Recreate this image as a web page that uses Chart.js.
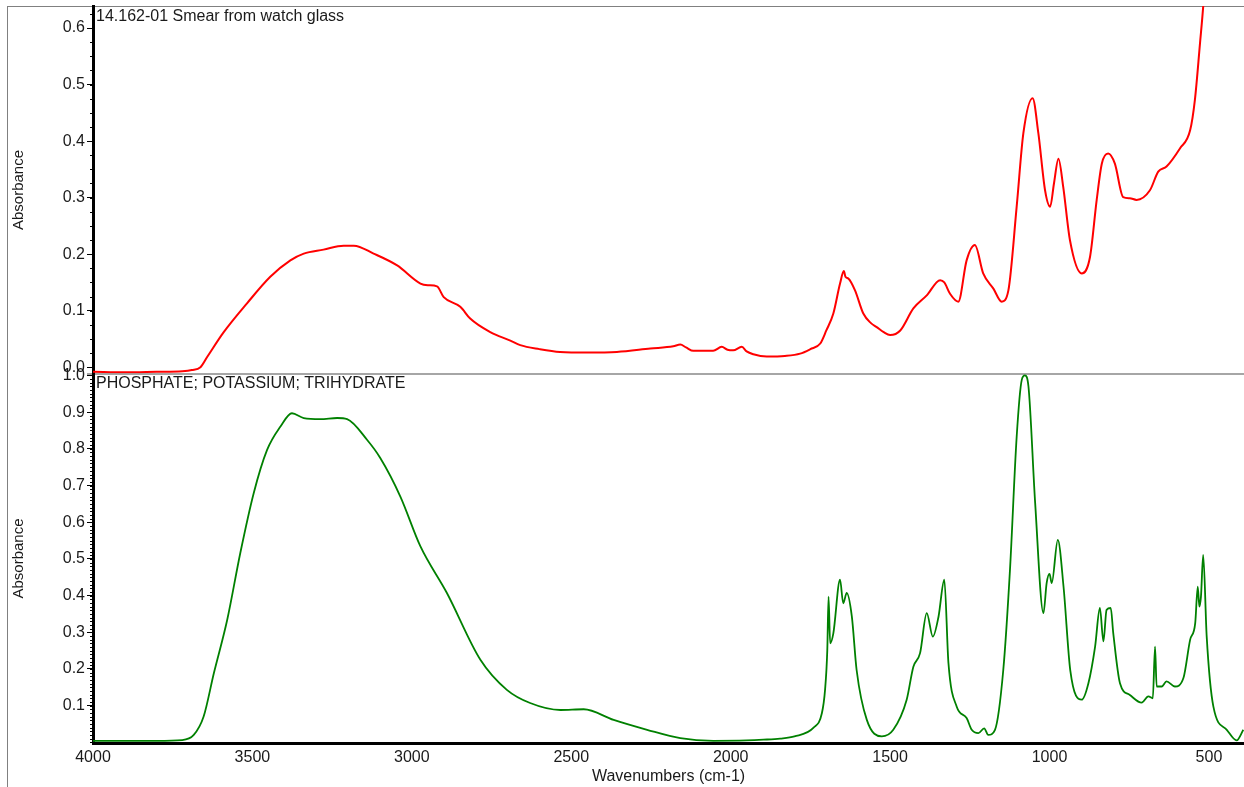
<!DOCTYPE html>
<html>
<head>
<meta charset="utf-8">
<title>IR spectra</title>
<script src="https://cdn.jsdelivr.net/npm/chart.js@4.4.1/dist/chart.umd.min.js"></script>
<style>
  body { margin: 0; background: #fff; }
  #wrap { position: relative; width: 1244px; height: 787px; overflow: hidden; background: #fff; }
  #wrap canvas { position: absolute; left: 0; top: 0; }
  #frame { position: absolute; left: 7px; top: 6px; width: 1300px; height: 800px;
           border-left: 1px solid #808080; border-top: 1px solid #808080; }
</style>
</head>
<body>
<div id="wrap">
  <div id="frame"></div>
  <canvas id="topChart" width="1244" height="787"></canvas>
  <canvas id="bottomChart" width="1244" height="787"></canvas>
</div>
<script>
// sample spectrum (top panel)
const smearWn = [4000, 3900, 3800, 3720, 3690, 3663, 3642, 3590, 3517, 3444, 3381, 3339, 3277, 3214, 3182,
  3120, 3046, 2973, 2950, 2921, 2900, 2848, 2817, 2754, 2691, 2660, 2600, 2535, 2450, 2357, 2252, 2180,
  2158, 2140, 2117, 2055, 2028, 2010, 1992, 1965, 1950, 1929, 1887, 1830, 1782, 1750, 1719, 1700, 1678,
  1657, 1645, 1640, 1631, 1610, 1584, 1560, 1542, 1520, 1500, 1468, 1427, 1385, 1343, 1330, 1312, 1286,
  1260, 1234, 1208, 1176, 1150, 1129, 1103, 1082, 1053, 1035, 1014, 998, 986, 972, 957, 936, 899, 873,
  852, 836, 816, 795, 769, 748, 727, 685, 659, 633, 591, 559, 544, 528, 518, 505];
const smearAbs = [-0.008, -0.009, -0.008, -0.007, -0.005, 0.000, 0.018, 0.062, 0.113, 0.160, 0.189, 0.201, 0.208, 0.215, 0.215,
  0.201, 0.180, 0.148, 0.145, 0.143, 0.124, 0.107, 0.086, 0.062, 0.047, 0.039, 0.032, 0.027, 0.026, 0.027, 0.033, 0.037,
  0.040, 0.035, 0.029, 0.029, 0.036, 0.031, 0.030, 0.036, 0.028, 0.023, 0.019, 0.020, 0.024, 0.032, 0.042, 0.065, 0.095,
  0.148, 0.170, 0.160, 0.157, 0.136, 0.095, 0.078, 0.071, 0.062, 0.057, 0.065, 0.104, 0.127, 0.154, 0.150, 0.130, 0.116,
  0.189, 0.216, 0.166, 0.139, 0.116, 0.136, 0.284, 0.414, 0.476, 0.414, 0.313, 0.284, 0.325, 0.369, 0.319, 0.225, 0.166, 0.195,
  0.296, 0.360, 0.378, 0.360, 0.301, 0.299, 0.296, 0.313, 0.346, 0.355, 0.387, 0.419, 0.473, 0.573, 0.638, 0.750];

// library reference spectrum (bottom panel)
const refWn = [4000, 3900, 3800, 3720, 3684, 3653, 3621, 3579, 3538, 3496, 3454, 3412, 3376, 3339, 3287, 3234,
  3203, 3140, 3099, 3036, 2973, 2890, 2785, 2702, 2629, 2534, 2461, 2367, 2262, 2158, 2054, 1950, 1897, 1845,
  1800, 1740, 1714, 1704, 1697, 1693, 1688, 1678, 1657, 1647, 1636, 1620, 1605, 1573, 1526, 1490, 1448, 1427,
  1406, 1385, 1366, 1348, 1330, 1317, 1291, 1260, 1244, 1223, 1205, 1192, 1171, 1145, 1124, 1103, 1087, 1077,
  1066, 1045, 1019, 1009, 1000, 993, 974, 956, 935, 899, 878, 857, 842, 831, 821, 808, 800, 779, 748, 711, 690,
  676, 669, 664, 648, 633, 607, 580, 559, 543, 535, 530, 525, 518, 507, 486, 444, 413, 392];
const refAbs = [0.004, 0.004, 0.004, 0.006, 0.020, 0.070, 0.188, 0.334, 0.516, 0.679, 0.797, 0.861, 0.897, 0.884, 0.881, 0.884,
  0.881, 0.824, 0.775, 0.670, 0.534, 0.407, 0.225, 0.143, 0.107, 0.088, 0.090, 0.061, 0.034, 0.011, 0.004, 0.005, 0.007, 0.010,
  0.016, 0.040, 0.079, 0.143, 0.250, 0.397, 0.270, 0.297, 0.443, 0.379, 0.407, 0.343, 0.197, 0.061, 0.016, 0.034, 0.116, 0.206,
  0.243, 0.352, 0.288, 0.343, 0.443, 0.216, 0.097, 0.066, 0.034, 0.025, 0.038, 0.020, 0.034, 0.197, 0.470, 0.833, 0.988, 1.000,
  0.970, 0.652, 0.352, 0.434, 0.459, 0.434, 0.552, 0.424, 0.197, 0.116, 0.161, 0.261, 0.366, 0.275, 0.361, 0.366, 0.297, 0.161, 0.129, 0.108, 0.125,
  0.120, 0.261, 0.152, 0.152, 0.166, 0.152, 0.175, 0.279, 0.325, 0.424, 0.370, 0.397, 0.511, 0.288, 0.097, 0.034, 0.005, 0.034];

const xTicks = [4000, 3500, 3000, 2500, 2000, 1500, 1000, 500];
const topTicks = [0.0, 0.1, 0.2, 0.3, 0.4, 0.5, 0.6];
const bottomTicks = [0.1, 0.2, 0.3, 0.4, 0.5, 0.6, 0.7, 0.8, 0.9, 1.0];

const FONT = "'Liberation Sans', Arial, sans-serif";
Chart.defaults.font.family = FONT;
Chart.defaults.color = '#1a1a1a';

function toPoints(xs, ys) {
    return xs.map((x, i) => ({ x: x, y: ys[i] }));
}

// minor ticks, divider line and panel caption
const panelDeco = {
    id: 'panelDeco',
    afterDraw(chart, args, opts) {
        const { ctx, chartArea } = chart;
        const y = chart.scales.y;
        ctx.save();
        ctx.strokeStyle = '#000';
        ctx.lineWidth = 1;
        ctx.beginPath();
        const first = Math.ceil(y.min / opts.minorStep - 1e-6);
        for (let k = first; k * opts.minorStep <= y.max + 1e-9; k++) {
            const py = Math.round(y.getPixelForValue(k * opts.minorStep)) + 0.5;
            ctx.moveTo(chartArea.left - 3, py);
            ctx.lineTo(chartArea.left, py);
        }
        ctx.stroke();
        if (opts.divider) {
            ctx.strokeStyle = '#888';
            ctx.lineWidth = 1.5;
            ctx.beginPath();
            ctx.moveTo(chartArea.left - 6, chartArea.bottom);
            ctx.lineTo(chartArea.right, chartArea.bottom);
            ctx.stroke();
        }
        ctx.fillStyle = '#1a1a1a';
        ctx.font = '16px ' + FONT;
        ctx.textBaseline = 'alphabetic';
        ctx.textAlign = 'left';
        ctx.fillText(opts.title, chartArea.left + 3, chartArea.top + opts.titleDy);
        ctx.restore();
    }
};

// keep the plot area exactly where the layout padding puts it
function noLabelPadding(axis) {
    axis.paddingTop = 0;
    axis.paddingBottom = 0;
    axis.paddingLeft = 0;
    axis.paddingRight = 0;
}

function yAxis(min, max, ticks) {
    return {
        min: min,
        max: max,
        afterBuildTicks: axis => { axis.ticks = ticks.map(v => ({ value: v })); },
        afterFit: axis => { axis.width = 93; noLabelPadding(axis); },
        ticks: {
            padding: 2,
            font: { size: 16 },
            callback: v => Number(v).toFixed(1)
        },
        grid: { drawOnChartArea: false, drawTicks: true, tickLength: 6, tickColor: '#000', tickWidth: 1 },
        border: { display: true, color: '#000', width: 3 },
        title: { display: true, text: 'Absorbance', font: { size: 15 }, padding: { top: 10, bottom: 0 } }
    };
}

function createTopChart() {
    const ctx = document.getElementById('topChart').getContext('2d');
    new Chart(ctx, {
        type: 'line',
        data: {
            datasets: [{
                label: '14.162-01 Smear from watch glass',
                data: toPoints(smearWn, smearAbs),
                borderColor: '#ff0000',
                borderWidth: 2,
                pointRadius: 0,
                cubicInterpolationMode: 'monotone'
            }]
        },
        options: {
            responsive: false,
            animation: false,
            layout: { padding: { top: 6, bottom: 413, left: 0, right: 0 } },
            scales: {
                x: { type: 'linear', reverse: true, min: 390, max: 4000, display: false },
                y: yAxis(-0.012, 0.639, topTicks)
            },
            plugins: {
                legend: { display: false },
                tooltip: { enabled: false },
                panelDeco: { minorStep: 0.025, divider: true, title: '14.162-01 Smear from watch glass', titleDy: 15 }
            }
        },
        plugins: [panelDeco]
    });
}

function createBottomChart() {
    const ctx = document.getElementById('bottomChart').getContext('2d');
    new Chart(ctx, {
        type: 'line',
        data: {
            datasets: [{
                label: 'PHOSPHATE; POTASSIUM; TRIHYDRATE',
                data: toPoints(refWn, refAbs),
                borderColor: '#008000',
                borderWidth: 1.8,
                pointRadius: 0,
                cubicInterpolationMode: 'monotone'
            }]
        },
        options: {
            responsive: false,
            animation: false,
            layout: { padding: { top: 374, bottom: 0, left: 0, right: 0 } },
            scales: {
                x: {
                    type: 'linear',
                    reverse: true,
                    min: 390,
                    max: 4000,
                    afterBuildTicks: axis => { axis.ticks = xTicks.map(v => ({ value: v })); },
                    afterFit: axis => { axis.height = 44; noLabelPadding(axis); },
                    ticks: { padding: 5, font: { size: 16 }, maxRotation: 0, callback: v => String(v) },
                    grid: { drawOnChartArea: false, drawTicks: false },
                    border: { display: true, color: '#000', width: 3 },
                    title: { display: true, text: 'Wavenumbers (cm-1)', font: { size: 16 }, padding: { top: 0, bottom: 1 } }
                },
                y: yAxis(-0.002, 1.004, bottomTicks)
            },
            plugins: {
                legend: { display: false },
                tooltip: { enabled: false },
                panelDeco: { minorStep: 0.01, divider: false, title: 'PHOSPHATE; POTASSIUM; TRIHYDRATE', titleDy: 14 }
            }
        },
        plugins: [panelDeco]
    });
}

document.addEventListener('DOMContentLoaded', function () {
    createTopChart();
    createBottomChart();
});
</script>
</body>
</html>
